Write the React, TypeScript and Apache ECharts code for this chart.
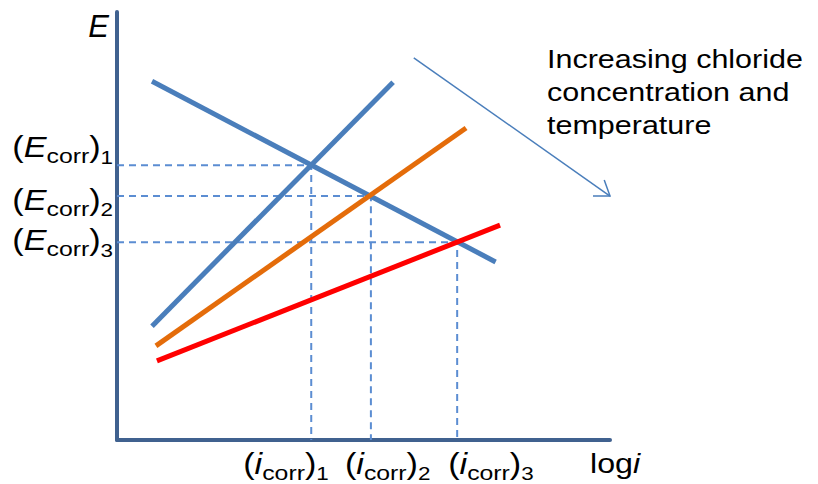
import React, { useEffect, useRef } from "react";
import * as echarts from "echarts";

// Polarization lines (x: log i, y: E), in relative axis units 0..100
const cathodicX = [7.1, 76.8];
const cathodicE = [83.8, 41.6];
const anodic1X = [7.1, 56.0];
const anodic1E = [26.6, 83.6];
const anodic2X = [7.9, 70.8];
const anodic2E = [22.0, 72.9];
const anodic3X = [8.1, 77.7];
const anodic3E = [18.5, 50.2];

// Corrosion points (intersections)
const icorr = [39.4, 51.5, 69.0];
const Ecorr = [64.2, 57.0, 46.2];
const subscripts = ["1", "2", "3"];

// Trend arrow, axis units
const arrowStart = [60.2, 89.3];
const arrowEnd = [100, 57.0];

const annotation = ["Increasing chloride", "concentration and", "temperature"];

const FONT = "'Liberation Sans', Arial, sans-serif";
const AXIS_COLOR = "#40618F";
const BLUE = "#4A7EBB";
const DASH_COLOR = "#5B8DD2";
const STRETCH = 1.22;
const LABEL_STRETCH = 1.18;

const pairs = (xs: number[], ys: number[]) => xs.map((x, i) => [x, ys[i]]);

// main glyphs sit at the top of the line box, subscripts drop to its bottom
const subRich = {
  p: { fontSize: 29, verticalAlign: "top", fontFamily: FONT, fill: "#000" },
  e: { fontSize: 29, verticalAlign: "top", fontStyle: "italic", fontFamily: FONT, fill: "#000" },
  s: { fontSize: 21, lineHeight: 34, verticalAlign: "bottom", fontFamily: FONT, fill: "#000" },
  n: { fontSize: 19, lineHeight: 34, verticalAlign: "bottom", fontFamily: FONT, fill: "#000" },
};

export default function App() {
  const ref = useRef<HTMLDivElement>(null);

  useEffect(() => {
    document.body.style.margin = "0";
    if (!ref.current) return;
    const chart = echarts.init(ref.current, undefined, { renderer: "svg" });

    const solid = (name: string, data: number[][], color: string) => ({
      name,
      type: "line",
      data,
      symbol: "none",
      z: 5,
      clip: false,
      lineStyle: { color, width: 5 },
    });

    const dashed = icorr.map((x, i) => ({
      name: "corr" + i,
      type: "line",
      data: [
        [0, Ecorr[i]],
        [x, Ecorr[i]],
        [x, 0],
      ],
      symbol: "none",
      z: 2,
      lineStyle: { color: DASH_COLOR, width: 2, type: [7, 5] },
    }));

    chart.setOption({
      animation: false,
      grid: { left: 117, right: 208, top: 12, bottom: 44 },
      xAxis: {
        type: "value",
        min: 0,
        max: 100,
        axisLine: { show: true, onZero: false, lineStyle: { color: AXIS_COLOR, width: 4 } },
        axisTick: { show: false },
        axisLabel: { show: false },
        splitLine: { show: false },
      },
      yAxis: {
        type: "value",
        min: 0,
        max: 100,
        axisLine: { show: true, onZero: false, lineStyle: { color: AXIS_COLOR, width: 4 } },
        axisTick: { show: false },
        axisLabel: { show: false },
        splitLine: { show: false },
      },
      series: [
        ...dashed,
        solid("cathodic", pairs(cathodicX, cathodicE), BLUE),
        solid("anodic1", pairs(anodic1X, anodic1E), BLUE),
        solid("anodic2", pairs(anodic2X, anodic2E), "#E46C0A"),
        solid("anodic3", pairs(anodic3X, anodic3E), "#FF0000"),
      ],
    });

    const px = (p: number[]) => chart.convertToPixel({ gridIndex: 0 }, p) as number[];
    const origin = px([0, 0]);
    const axisEnd = px([100, 0]);

    const graphics: any[] = [];

    // E axis title
    graphics.push({
      type: "text",
      x: origin[0] - 8,
      y: 11,
      style: { text: "E", fontSize: 31, fontStyle: "italic", fontFamily: FONT, fill: "#000", align: "right", verticalAlign: "top" },
    });

    // (E_corr)n labels on the potential axis, nudged so they do not collide
    const eOffsets = [-33, -11, -17];
    Ecorr.forEach((e, i) => {
      const y = px([0, e])[1];
      graphics.push({
        type: "text",
        x: origin[0] - 4,
        y: y + eOffsets[i],
        scaleX: LABEL_STRETCH,
        style: {
          text: `{p|(}{e|E}{s|corr}{p|)}{n|${subscripts[i]}}`,
          rich: subRich,
          align: "right",
          verticalAlign: "top",
        },
      });
    });

    // (i_corr)n labels under the log i axis
    const iOffsets = [-68, -26, -9];
    icorr.forEach((v, i) => {
      const x = px([v, 0])[0];
      graphics.push({
        type: "text",
        x: x + iOffsets[i],
        y: origin[1] + 9,
        scaleX: LABEL_STRETCH,
        style: {
          text: `{p|(}{e|i}{s|corr}{p|)}{n|${subscripts[i]}}`,
          rich: subRich,
          align: "left",
          verticalAlign: "top",
        },
      });
    });

    // log i axis title
    graphics.push({
      type: "text",
      x: axisEnd[0] - 20,
      y: origin[1] + 9,
      scaleX: 1.15,
      style: {
        text: "{a|log}{b|i}",
        rich: {
          a: { fontSize: 28, lineHeight: 28, fontFamily: FONT, fill: "#000" },
          b: { fontSize: 28, lineHeight: 28, fontStyle: "italic", fontFamily: FONT, fill: "#000" },
        },
        align: "left",
        verticalAlign: "top",
      },
    });

    // Trend arrow
    const a0 = px(arrowStart);
    const a1 = px(arrowEnd);
    const ang = Math.atan2(a1[1] - a0[1], a1[0] - a0[0]);
    const wing = 17;
    const spread = (35 * Math.PI) / 180;
    const back = ang + Math.PI;
    const w1 = [a1[0] + wing * Math.cos(back - spread), a1[1] + wing * Math.sin(back - spread)];
    const w2 = [a1[0] + wing * Math.cos(back + spread), a1[1] + wing * Math.sin(back + spread)];
    graphics.push({
      type: "line",
      shape: { x1: a0[0], y1: a0[1], x2: a1[0], y2: a1[1] },
      style: { stroke: BLUE, lineWidth: 1.5 },
    });
    graphics.push({
      type: "polyline",
      shape: { points: [w1, a1, w2] },
      style: { stroke: BLUE, lineWidth: 1.5, fill: null },
    });

    // Annotation text
    graphics.push({
      type: "text",
      x: 547,
      y: 43,
      scaleX: STRETCH,
      style: {
        text: annotation.join("\n"),
        fontSize: 25,
        lineHeight: 33,
        fontFamily: FONT,
        fill: "#000",
        align: "left",
        verticalAlign: "top",
      },
    });

    chart.setOption({ graphic: graphics });

    return () => chart.dispose();
  }, []);

  return <div ref={ref} style={{ width: 818, height: 484 }} />;
}
